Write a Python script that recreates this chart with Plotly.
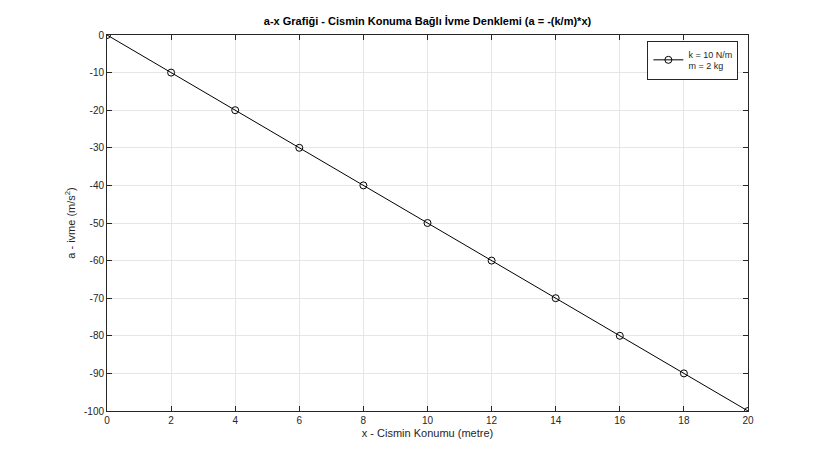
import plotly.graph_objects as go

k = 10
m = 2
x = [0, 2, 4, 6, 8, 10, 12, 14, 16, 18, 20]
a = [0, -10, -20, -30, -40, -50, -60, -70, -80, -90, -100]
y_ticks = [0, -10, -20, -30, -40, -50, -60, -70, -80, -90, -100]
y_labels = [str(v) for v in y_ticks]

fig = go.Figure(go.Scatter(
    x=x, y=a, mode='lines+markers', name='k = 10 N/m<br>m = 2 kg',
    line=dict(color='black', width=1),
    marker=dict(symbol='circle-open', size=7, color='black', line=dict(width=1))))

ax = dict(showline=True, linecolor='#262626', mirror='ticks', ticks='inside', ticklen=5,
          tickcolor='#262626', showgrid=True, gridcolor='#e6e6e6', zeroline=False,
          tickfont=dict(size=10, color='#262626'))
fig.update_layout(
    width=825, height=462, paper_bgcolor='white', plot_bgcolor='white',
    font=dict(family='Liberation Sans, Arial', size=11, color='#262626'),
    margin=dict(l=99, r=85, t=27, b=59),
    title=dict(text='<b>a-x Grafiği - Cismin Konuma Bağlı İvme Denklemi (a = -(k/m)*x)</b>',
               x=0.5, xref='paper', y=0.98, yanchor='top', font=dict(size=11, color='black')),
    xaxis=dict(ax, range=[0, 20], dtick=2,
               title=dict(text='x - Cismin Konumu (metre)', standoff=4, font=dict(size=11))),
    yaxis=dict(ax, range=[-100, 0], tickvals=y_ticks, ticktext=y_labels,
               title=dict(text='a - ivme (m/s<sup>2</sup>)', standoff=6, font=dict(size=11))),
    showlegend=True,
    legend=dict(x=0.985, y=0.985, xanchor='right', yanchor='top', bgcolor='white',
                bordercolor='#262626', borderwidth=1, font=dict(size=9)),
)
fig.write_html("out.html")
